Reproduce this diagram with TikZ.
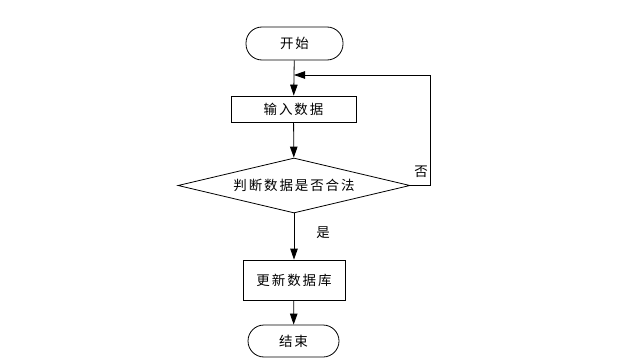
\documentclass[tikz,border=0pt]{standalone}
\usepackage{fontspec}
\setmainfont[LetterSpace=14]{Noto Sans CJK SC}
\usetikzlibrary{shapes.geometric,arrows.meta}
\begin{document}
\begin{tikzpicture}[x=1pt,y=-1pt,
  line width=0.8pt,
  every node/.style={font=\fontsize{13.5}{15}\selectfont},
  term/.style={draw,rectangle,rounded corners=16pt,minimum width=97pt,minimum height=33pt,inner sep=0pt},
  proc/.style={draw,rectangle,minimum width=125pt,minimum height=26pt,inner sep=0pt},
  decide/.style={draw,diamond,aspect=4.2,minimum width=232pt,minimum height=55pt,inner sep=0pt},
  arr/.style={-{Triangle[length=11pt,width=7.5pt]}}]
\useasboundingbox (0,0) rectangle (624,361);
\node[term] (start) at (294.5,43.5) {开始};
\node[proc] (input) at (293.5,109) {输入数据};
\node[decide] (check) at (294,185.5) {判断数据是否合法};
\node[proc,minimum width=102pt,minimum height=40pt] (update) at (294,280) {更新数据库};
\node[term,minimum width=91pt,minimum height=32pt] (end) at (293.5,341) {结束};
\coordinate (c1) at (430,185.5);
\coordinate (c2) at (430,75);
\coordinate (c3) at (294,75);
\draw[arr] (start) -- (input);
\draw[arr] (input) -- (check);
\draw[arr] (check) -- (update);
\draw[arr] (update) -- (end);
\draw[arr] (check.east) -- (c1) -- (c2) -- (c3);
\node (no) at (421,172) {否};
\node (yes) at (323,233) {是};
\end{tikzpicture}
\end{document}
